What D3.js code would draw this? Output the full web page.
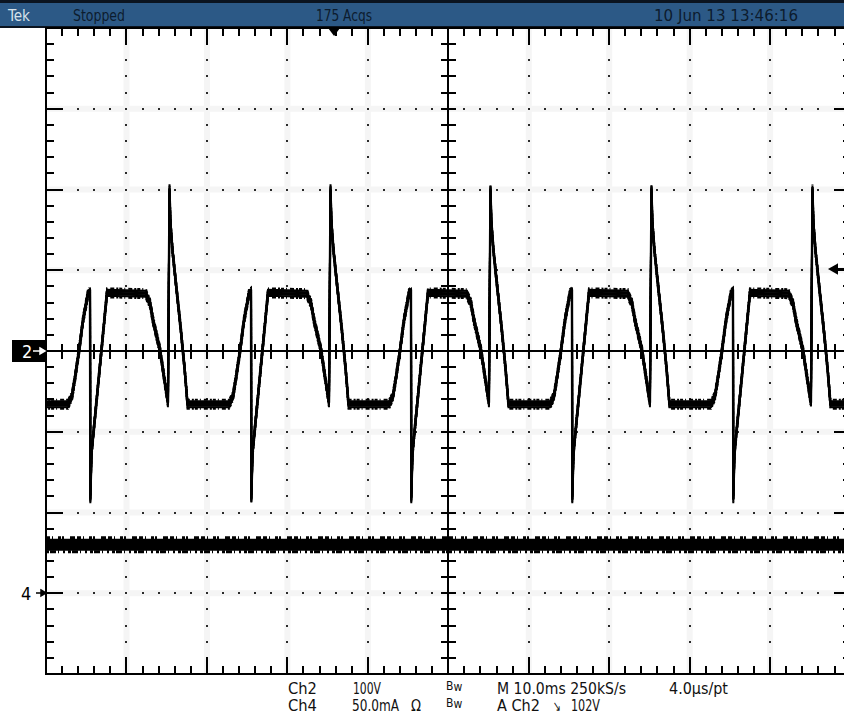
<!DOCTYPE html>
<html>
<head>
<meta charset="utf-8">
<script src="https://cdn.jsdelivr.net/npm/d3@7"></script>
<style>
  body { margin: 0; background: #fff; }
  svg { display: block; }
  text { font-family: "Liberation Sans Narrow", "DejaVu Sans Condensed", "Liberation Sans", sans-serif; }
</style>
</head>
<body>
<svg id="scope" width="844" height="722"></svg>
<script>
// one cycle of the Ch2 trace: ms after the negative spike, and volts
var cycleTime  = [-2.73, -2.24, -1.86, -1.37, -0.87, -0.25, 0, 0.04, 0.19, 2.11, 6.96, 7.08, 7.46, 7.83, 8.70, 9.32, 9.69, 9.88, 10.0, 10.25, 10.63, 11.25, 11.74, 12.12];
var cycleVolts = [-66, -56, -33, 0, 38, 71, 73, -183, -126, 72, 71, 67, 59, 38, 1, -40, -64, 201, 158, 125, 88, 30, -20, -66];
// times (ms) of each negative spike on screen
var cycleStarts = [-14.5, 5.47, 25.48, 45.36, 65.37, 85.38, 105.3];

// Ch4 current trace (mA)
var ch4Time = [0, 25, 50, 75, 100];
var ch4Current = [30, 30, 30, 30, 30];

var triggerLevel = 102;   // volts
var triggerTime = 35.8;   // ms, the little triangle at the top

var headerLabels = ["Tek", "Stopped", "175 Acqs", "10 Jun 13 13:46:16"];
var footerRow1 = ["Ch2", "100V", "M 10.0ms 250kS/s", "4.0\u00b5s/pt"];
var footerRow2 = ["Ch4", "50.0mA", "\u03a9", "A  Ch2", "\u2198", "102V"];

var plotL = 46, plotR = 850.6, plotT = 28, plotB = 674;

var svg = d3.select("#scope");

var x = d3.scaleLinear().domain([0, 100]).range([plotL, plotR]);
var y2 = d3.scaleLinear().domain([-400, 400]).range([plotB, plotT]);
var y4 = d3.scaleLinear().domain([-50, 350]).range([plotB, plotT]);

var r = Math.round;

// ---- header bar
svg.append("rect").attr("width", 844).attr("height", 28).attr("fill", "#0b1420");
svg.append("rect").attr("y", 3).attr("width", 844).attr("height", 23).attr("fill", "#2c5986");

var headerX = [8, 73, 316, 654];
var headerW = [22, 52, 56, 144];
svg.selectAll(".hdr")
  .data(headerLabels)
  .enter()
  .append("text")
  .attr("class", "hdr")
  .attr("x", (d, i) => headerX[i])
  .attr("y", 21)
  .attr("font-size", 16)
  .attr("textLength", (d, i) => headerW[i])
  .attr("lengthAdjust", "spacingAndGlyphs")
  .attr("fill", (d, i) => i == 0 ? "#d6e2ea" : "#0c1c2e")
  .text(d => d);

// ---- graticule
var minorT = d3.range(0, 100.01, 2);
var minorV = d3.range(-400, 400.01, 20);
var gridT = d3.range(10, 91, 10).filter(t => t != 50);
var gridV = [-300, -200, -100, 100, 200, 300];

var grid = svg.append("g");

// faint speckle band along the dotted lines
grid.selectAll(".haloH").data(gridV).enter().append("line")
  .attr("x1", plotL).attr("x2", plotR)
  .attr("y1", d => y2(d)).attr("y2", d => y2(d))
  .attr("stroke", "#f5f5f5").attr("stroke-width", 6);
grid.selectAll(".haloV").data(gridT).enter().append("line")
  .attr("y1", plotT).attr("y2", plotB)
  .attr("x1", d => x(d)).attr("x2", d => x(d))
  .attr("stroke", "#f5f5f5").attr("stroke-width", 6);

var dots = [];
gridV.forEach(function (v) {
  minorT.slice(1, -1).forEach(function (t) { dots.push([x(t), y2(v)]); });
});
gridT.forEach(function (t) {
  minorV.slice(1, -1).forEach(function (v) { dots.push([x(t), y2(v)]); });
});
grid.selectAll(".dot")
  .data(dots)
  .enter()
  .append("rect")
  .attr("x", d => r(d[0]) - 1)
  .attr("y", d => r(d[1]) - 1)
  .attr("width", 2)
  .attr("height", 2)
  .attr("fill", "#2a2a2a");

var cx = r(x(50)), cy = r(y2(0));

function tickLen(isMajor) { return isMajor ? 17 : 8; }

// every tick mark as a small filled bar: [x, y, w, h]
var ticks = [];
minorT.forEach(function (t) {
  var xx = r(x(t)) - 1, len = tickLen(t % 10 == 0);
  ticks.push([xx, plotT, 2, len]);
  ticks.push([xx, plotB - len, 2, len]);
  ticks.push([xx, cy - 7, 2, 15]);
});
minorV.forEach(function (v) {
  var yy = r(y2(v)) - 1, len = tickLen(v % 100 == 0);
  ticks.push([plotL, yy, len, 2]);
  ticks.push([r(plotR) - len, yy, len, 2]);
  ticks.push([cx - 7, yy, 15, 2]);
});
// centre cross and frame
ticks.push([plotL, cy - 1, r(plotR - plotL), 2]);
ticks.push([cx - 1, plotT, 2, plotB - plotT]);
ticks.push([plotL - 1, plotT - 1, r(plotR - plotL) + 2, 2]);
ticks.push([plotL - 1, plotB - 1, r(plotR - plotL) + 2, 2]);
ticks.push([plotL - 1, plotT - 1, 2, plotB - plotT + 2]);
ticks.push([r(plotR) - 1, plotT - 1, 2, plotB - plotT + 2]);

svg.append("g")
  .selectAll("rect")
  .data(ticks)
  .enter()
  .append("rect")
  .attr("x", d => d[0])
  .attr("y", d => d[1])
  .attr("width", d => d[2])
  .attr("height", d => d[3])
  .attr("fill", "#000");

// ---- traces
svg.append("clipPath").attr("id", "plotClip")
  .append("rect").attr("x", plotL).attr("y", plotT)
  .attr("width", plotR - plotL).attr("height", plotB - plotT);

var traces = svg.append("g").attr("clip-path", "url(#plotClip)");

var ch2 = cycleStarts.flatMap(s => cycleTime.map((dt, i) => [s + dt, cycleVolts[i]]));
var line2 = d3.line().x(d => x(d[0])).y(d => y2(d[1]));

// vertical noise: the same trace smeared up and down a few pixels
var noise2 = [-4.5, -3, -1.5, 0, 1.5, 3, 4.5];
traces.selectAll("path.ch2")
  .data(noise2)
  .enter()
  .append("path")
  .attr("class", "ch2")
  .attr("transform", d => "translate(0," + d + ")")
  .attr("d", line2(ch2))
  .attr("fill", "none")
  .attr("stroke", "#000")
  .attr("stroke-width", d => d == 0 ? 2.4 : 2)
  .attr("stroke-dasharray", d => Math.abs(d) > 4 ? "3 2 1 3 4 2 2 1" : null);

var ch4 = ch4Time.map((t, i) => [t, ch4Current[i]]);
var line4 = d3.line().x(d => x(d[0])).y(d => y4(d[1]));
traces.append("path")
  .attr("d", line4(ch4))
  .attr("fill", "none")
  .attr("stroke", "#000")
  .attr("stroke-width", 12);
traces.selectAll("path.ch4edge")
  .data([-7, 7])
  .enter()
  .append("path")
  .attr("class", "ch4edge")
  .attr("transform", d => "translate(0," + d + ")")
  .attr("d", line4(ch4))
  .attr("fill", "none")
  .attr("stroke", "#000")
  .attr("stroke-width", 3)
  .attr("stroke-dasharray", d => d < 0 ? "4 2 1 5 3 1 2 6 5 2" : "3 1 6 2 1 4 2 3");

// ---- markers
svg.append("rect").attr("x", 12).attr("y", 340).attr("width", 34).attr("height", 22).attr("fill", "#000");
svg.append("text").attr("x", 22).attr("y", 358).attr("font-size", 18).attr("fill", "#fff").text("2");
svg.append("path")
  .attr("d", "M33," + cy + "H44M40," + (cy - 3) + "L45," + cy + "L40," + (cy + 3) + "Z")
  .attr("stroke", "#fff").attr("stroke-width", 1.5).attr("fill", "#fff");

var g4 = r(y4(0));
svg.append("text").attr("x", 21).attr("y", g4 + 7).attr("font-size", 18).attr("fill", "#000").text("4");
svg.append("path")
  .attr("d", "M36," + g4 + "H45M41," + (g4 - 3) + "L46," + g4 + "L41," + (g4 + 3) + "Z")
  .attr("stroke", "#000").attr("stroke-width", 1.5).attr("fill", "#000");

// trigger level arrow on the right edge
var ty = r(y2(triggerLevel));
svg.append("path")
  .attr("d", "M844," + ty + "H832M837," + (ty - 4) + "L830," + ty + "L837," + (ty + 4) + "Z")
  .attr("stroke", "#000").attr("stroke-width", 2).attr("fill", "#000");

// trigger position triangle
var tx = x(triggerTime);
svg.append("path")
  .attr("d", "M" + (tx - 6) + "," + plotT + "L" + (tx + 6) + "," + plotT + "L" + tx + "," + (plotT + 8) + "Z")
  .attr("fill", "#000");

// ---- footer readout
var foot = svg.append("g").attr("font-size", 15).attr("fill", "#111");
var row1X = [288, 353, 497, 669];
var row1W = [29, 28, 129, 59];
foot.selectAll("text.r1").data(footerRow1).enter().append("text")
  .attr("class", "r1")
  .attr("x", (d, i) => row1X[i]).attr("y", 694)
  .attr("textLength", (d, i) => row1W[i]).attr("lengthAdjust", "spacingAndGlyphs")
  .text(d => d);
var row2X = [288, 352, 411, 497, 553, 571];
var row2W = [29, 47, 10, 43, 8, 29];
foot.selectAll("text.r2").data(footerRow2).enter().append("text")
  .attr("class", "r2")
  .attr("x", (d, i) => row2X[i]).attr("y", 711)
  .attr("textLength", (d, i) => row2W[i]).attr("lengthAdjust", "spacingAndGlyphs")
  .text(d => d);
// bandwidth limit flags
[690, 707].forEach(function (yy) {
  var t = foot.append("text").attr("x", 446).attr("y", yy).attr("font-size", 12);
  t.append("tspan").text("B");
  t.append("tspan").attr("dy", 1).text("w");
});
</script>
</body>
</html>
